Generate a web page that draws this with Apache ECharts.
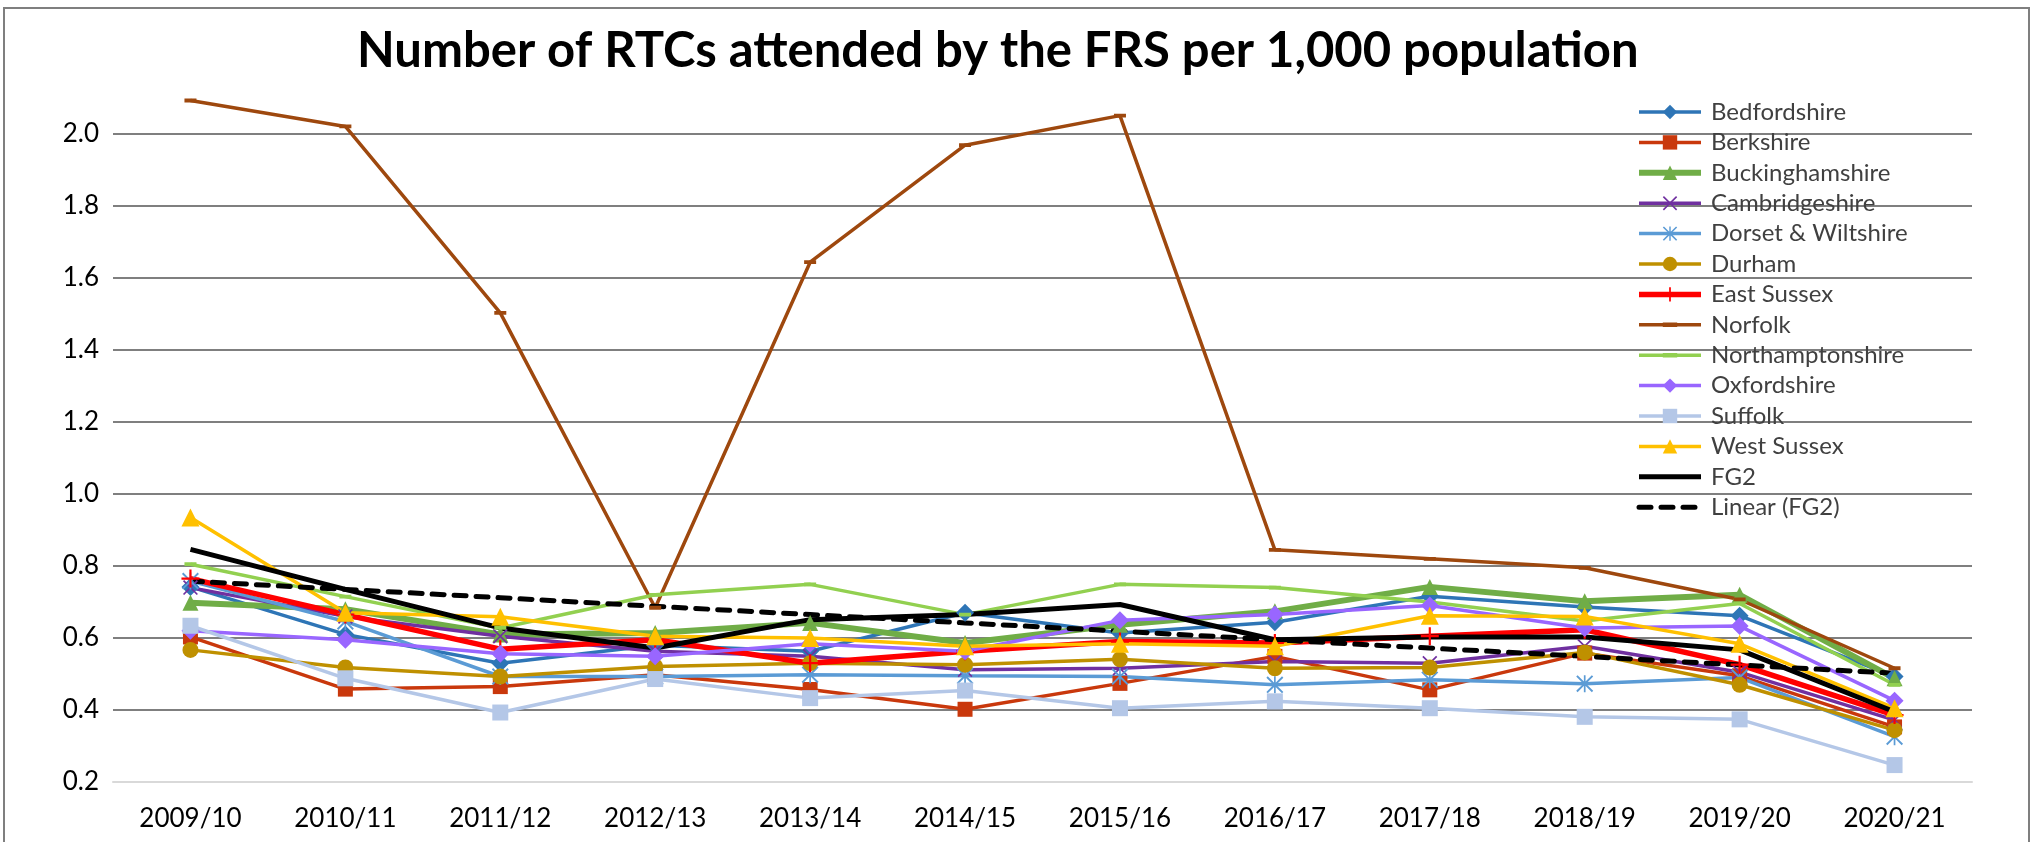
<!DOCTYPE html>
<html>
<head>
<meta charset="utf-8">
<title>Number of RTCs attended by the FRS per 1,000 population</title>
<script src="https://cdn.jsdelivr.net/npm/echarts@6.0.0/dist/echarts.min.js"></script>
<style>
    html, body { margin: 0; padding: 0; background: #fff; }
    #rtcline { width: 2033px; height: 842px; }
</style>
</head>
<body>
<div id="rtcline"></div>
<script>
// values
var years = ['2009/10', '2010/11', '2011/12', '2012/13', '2013/14', '2014/15', '2015/16', '2016/17', '2017/18', '2018/19', '2019/20', '2020/21'];
var bedfordshire = [0.742, 0.610, 0.530, 0.580, 0.563, 0.670, 0.614, 0.644, 0.716, 0.686, 0.662, 0.493];
var berkshire = [0.603, 0.458, 0.465, 0.498, 0.457, 0.402, 0.474, 0.549, 0.456, 0.558, 0.495, 0.353];
var buckinghamshire = [0.698, 0.680, 0.610, 0.614, 0.642, 0.586, 0.637, 0.674, 0.742, 0.702, 0.720, 0.488];
var cambridgeshire = [0.740, 0.660, 0.605, 0.563, 0.549, 0.512, 0.516, 0.535, 0.530, 0.577, 0.505, 0.372];
var dorsetWiltshire = [0.758, 0.646, 0.493, 0.493, 0.498, 0.495, 0.493, 0.470, 0.484, 0.473, 0.490, 0.326];
var durham = [0.567, 0.518, 0.493, 0.521, 0.530, 0.526, 0.541, 0.516, 0.518, 0.560, 0.470, 0.344];
var eastSussex = [0.765, 0.665, 0.569, 0.595, 0.530, 0.563, 0.590, 0.586, 0.605, 0.623, 0.526, 0.386];
var norfolk = [2.093, 2.021, 1.503, 0.684, 1.644, 1.969, 2.051, 0.845, 0.820, 0.795, 0.707, 0.516];
var northamptonshire = [0.805, 0.715, 0.628, 0.720, 0.749, 0.665, 0.749, 0.740, 0.700, 0.647, 0.696, 0.470];
var oxfordshire = [0.620, 0.595, 0.556, 0.549, 0.584, 0.563, 0.649, 0.665, 0.690, 0.628, 0.633, 0.426];
var suffolk = [0.634, 0.488, 0.393, 0.486, 0.433, 0.454, 0.405, 0.424, 0.405, 0.381, 0.374, 0.247];
var westSussex = [0.935, 0.670, 0.659, 0.605, 0.600, 0.577, 0.584, 0.577, 0.662, 0.660, 0.584, 0.405];
var fg2 = [0.846, 0.735, 0.628, 0.572, 0.651, 0.665, 0.693, 0.595, 0.603, 0.603, 0.567, 0.395];
var linearFg2 = [0.758, 0.735, 0.712, 0.688, 0.665, 0.642, 0.619, 0.595, 0.572, 0.549, 0.525, 0.502];

// excel style marker shapes
var plusMark = 'path://M4.4,0H5.6V10H4.4Z M0,4.4H10V5.6H0Z';
var crossMark = 'path://M0,0.8L0.8,0L5,4.2L9.2,0L10,0.8L5.8,5L10,9.2L9.2,10L5,5.8L0.8,10L0,9.2L4.2,5Z';
var starMark = 'path://M4.5,0H5.5V10H4.5Z M0,0.8L0.8,0L5,4.2L9.2,0L10,0.8L5.8,5L10,9.2L9.2,10L5,5.8L0.8,10L0,9.2L4.2,5Z';
// short bar; the two empty moves keep a square box so the legend does not stretch it
var dashMark = 'path://M0,0L0.01,0 M0,3.4H10V6.6H0Z M10,10L9.99,10';

var myChart;
var font = 'Lato, "Liberation Sans", sans-serif';

makeLine = function (name, data, color, width, symbol, size) {
    return {
        name: name,
        type: 'line',
        data: data,
        symbol: symbol,
        symbolSize: size,
        showSymbol: symbol !== 'none',
        lineStyle: { color: color, width: width },
        itemStyle: { color: color },
        emphasis: { disabled: true },
        animation: false
    };
};

getSeriesData = function () {
    var linear = makeLine('Linear (FG2)', linearFg2, '#000000', 5, 'none', 0);
    linear.lineStyle.type = [12, 10];
    linear.lineStyle.cap = 'round';
    return [
        makeLine('Bedfordshire', bedfordshire, '#2E75B6', 3.5, 'diamond', 18),
        makeLine('Berkshire', berkshire, '#C9380C', 3.5, 'rect', 15),
        makeLine('Buckinghamshire', buckinghamshire, '#70AD47', 6, 'triangle', 16),
        makeLine('Cambridgeshire', cambridgeshire, '#7030A0', 3.5, crossMark, 15),
        makeLine('Dorset & Wiltshire', dorsetWiltshire, '#5B9BD5', 3.5, starMark, 17),
        makeLine('Durham', durham, '#BF9000', 3.5, 'circle', 16),
        makeLine('East Sussex', eastSussex, '#FF0000', 5.5, plusMark, 18),
        makeLine('Norfolk', norfolk, '#9E480E', 3.5, dashMark, 12),
        makeLine('Northamptonshire', northamptonshire, '#92D050', 3.5, dashMark, 12),
        makeLine('Oxfordshire', oxfordshire, '#9966FF', 3.5, 'diamond', 18),
        makeLine('Suffolk', suffolk, '#B4C7E7', 3.5, 'rect', 16),
        makeLine('West Sussex', westSussex, '#FFC000', 3.5, 'triangle', 18),
        makeLine('FG2', fg2, '#000000', 5, 'none', 0),
        linear
    ];
};

getLegendData = function (series) {
    var data = [];
    series.forEach(function (s) {
        var item = { name: s.name };
        if (s.symbol === 'none') {
            item.itemStyle = { opacity: 0 };
        }
        data.push(item);
    });
    return data;
};

generateChart = function () {
    myChart = echarts.init(document.getElementById('rtcline'), null, { renderer: 'canvas' });
    var series = getSeriesData();
    var option = {
        backgroundColor: '#ffffff',
        animation: false,
        title: {
            text: 'Number of RTCs attended by the FRS per 1,000 population',
            left: 352,
            top: 22,
            textStyle: { fontFamily: font, fontWeight: 'bold', fontSize: 49, color: '#000000' }
        },
        graphic: [{
            type: 'polyline',
            shape: { points: [[4, 842], [4, 8], [2029, 8], [2029, 842]] },
            style: { stroke: '#7f7f7f', lineWidth: 2, fill: null },
            silent: true
        }],
        legend: {
            orient: 'vertical',
            left: 1631,
            top: 95,
            itemWidth: 62,
            itemHeight: 18,
            itemGap: 6.4,
            selectedMode: false,
            lineStyle: { width: 'inherit' },
            textStyle: { fontFamily: font, fontSize: 24, color: '#404040', lineHeight: 24, padding: [0, 0, 0, 5] },
            data: getLegendData(series)
        },
        grid: {
            left: 113,
            right: 61,
            top: 62,
            bottom: 60,
            containLabel: false
        },
        xAxis: {
            type: 'category',
            boundaryGap: true,
            data: years,
            axisLine: { show: true, lineStyle: { color: '#d9d9d9', width: 2 } },
            axisTick: { show: false },
            axisLabel: { fontFamily: font, fontSize: 26, color: '#000000', margin: 24 }
        },
        yAxis: {
            type: 'value',
            min: 0.2,
            max: 2.2,
            interval: 0.2,
            axisLine: { show: false },
            axisTick: { show: false },
            axisLabel: {
                fontFamily: font, fontSize: 26, color: '#000000', margin: 14,
                showMaxLabel: false,
                formatter: function (v) { return v.toFixed(1); }
            },
            splitLine: { show: true, showMinLine: false, showMaxLine: false, lineStyle: { color: '#7f7f7f', width: 2 } }
        },
        series: series
    };
    option && myChart.setOption(option);
};

generateChart();
window.onresize = function () {
    myChart.resize();
};
</script>
</body>
</html>
